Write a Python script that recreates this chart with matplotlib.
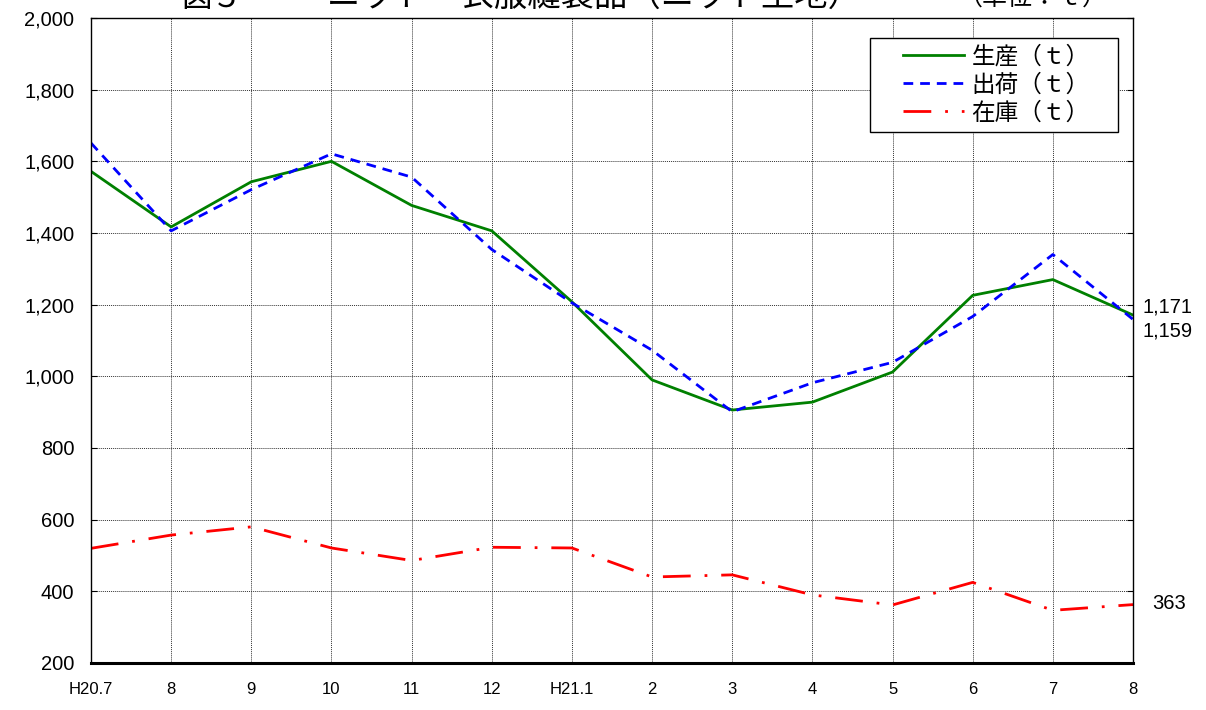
# ニット衣服縫製品 生産・出荷・在庫の推移
import matplotlib
matplotlib.use('Agg')
import matplotlib.pyplot as plt
from matplotlib.ticker import FuncFormatter
from matplotlib.legend_handler import HandlerLine2D

plt.rcParams['font.family'] = ['Noto Sans CJK JP', 'DejaVu Sans']

# データ（単位：t）
months = ['H20.7', '8', '9', '10', '11', '12', 'H21.1', '2', '3', '4', '5', '6', '7', '8']
production = [1572, 1417, 1543, 1600, 1477, 1406, 1208, 990, 906, 928, 1012, 1226, 1270, 1171]
shipment = [1651, 1406, 1521, 1621, 1556, 1354, 1205, 1073, 901, 982, 1039, 1167, 1340, 1159]
inventory = [520, 557, 580, 521, 486, 523, 521, 440, 446, 390, 362, 425, 347, 363]
labels = ['生産（ｔ）', '出荷（ｔ）', '在庫（ｔ）']

x = list(range(len(months)))

fig = plt.figure(figsize=(12.06, 7.10), dpi=100, facecolor='white')
ax1 = fig.add_axes([91/1206, 1-663/710, (1133-91)/1206, (663-18)/710], facecolor='white')

l1, = ax1.plot(x, production, color='#008000', lw=2.0, label=labels[0])
l2, = ax1.plot(x, shipment, color='#0000ff', lw=2.0, ls=(0, (3.5, 2.5)), label=labels[1])
l3, = ax1.plot(x, inventory, color='#ff0000', lw=2.0, ls=(0, (10, 5, 1, 5)), label=labels[2])

ax1.set_xlim(0, len(months)-1)
ax1.set_ylim(200, 2000)
ax1.set_yticks(range(200, 2001, 200))
ax1.yaxis.set_major_formatter(FuncFormatter(lambda v, p: f'{int(v):,}'))
ax1.set_xticks(x)
ax1.set_xticklabels(months, fontsize=12, family=['Liberation Sans Narrow', 'Liberation Sans', 'DejaVu Sans'])
ax1.tick_params(axis='y', labelsize=14.5, direction='in', length=4, right=True, pad=12)
ax1.tick_params(axis='x', direction='in', length=0, pad=14)
for lab in ax1.get_yticklabels():
    lab.set_family(['Liberation Sans', 'DejaVu Sans'])

ax1.grid(True, color='#333333', ls=(0, (1, 1)), lw=0.7)
for s in ax1.spines.values():
    s.set_color('black')
    s.set_linewidth(1.0)
ax1.spines['bottom'].set_linewidth(2.2)

# 最終月の値
last = len(months) - 1
ax1.annotate(f'{production[-1]:,}', xy=(last, production[-1]), xytext=(10, 8),
             textcoords='offset pixels', va='center', ha='left', fontsize=14.5,
             family=['Liberation Sans', 'DejaVu Sans'], annotation_clip=False)
ax1.annotate(f'{shipment[-1]:,}', xy=(last, shipment[-1]), xytext=(10, -12),
             textcoords='offset pixels', va='center', ha='left', fontsize=14.5,
             family=['Liberation Sans', 'DejaVu Sans'], annotation_clip=False)
ax1.annotate(f'{inventory[-1]:,}', xy=(last, inventory[-1]), xytext=(19, 1),
             textcoords='offset pixels', va='center', ha='left', fontsize=14.5,
             family=['Liberation Sans', 'DejaVu Sans'], annotation_clip=False)

# 凡例（枠を広めに）
hm = {h: HandlerLine2D(xpad=1.1) for h in (l1, l2, l3)}
leg = ax1.legend(loc='upper left', bbox_to_anchor=(0.7476, 0.5, 0.238, 0.469), mode='expand',
                 fontsize=17, handler_map=hm,
                 frameon=True, fancybox=False, edgecolor='black', framealpha=1,
                 handlelength=3.7, handletextpad=0.3, borderpad=0.3, labelspacing=0.22,
                 borderaxespad=0)
leg.get_frame().set_linewidth(1.0)

# タイトル（上端で切れている）
fig.text(181/1206, 1-14/710, '図５', fontsize=22, ha='left', va='bottom')
fig.text(327/1206, 1-14/710, 'ニット　衣服縫製品（ニット生地）', fontsize=24, ha='left', va='bottom')
fig.text(958/1206, 1-11/710, '（単位：ｔ）', fontsize=18, ha='left', va='bottom')

plt.savefig('out.png', dpi=100, facecolor='white')
